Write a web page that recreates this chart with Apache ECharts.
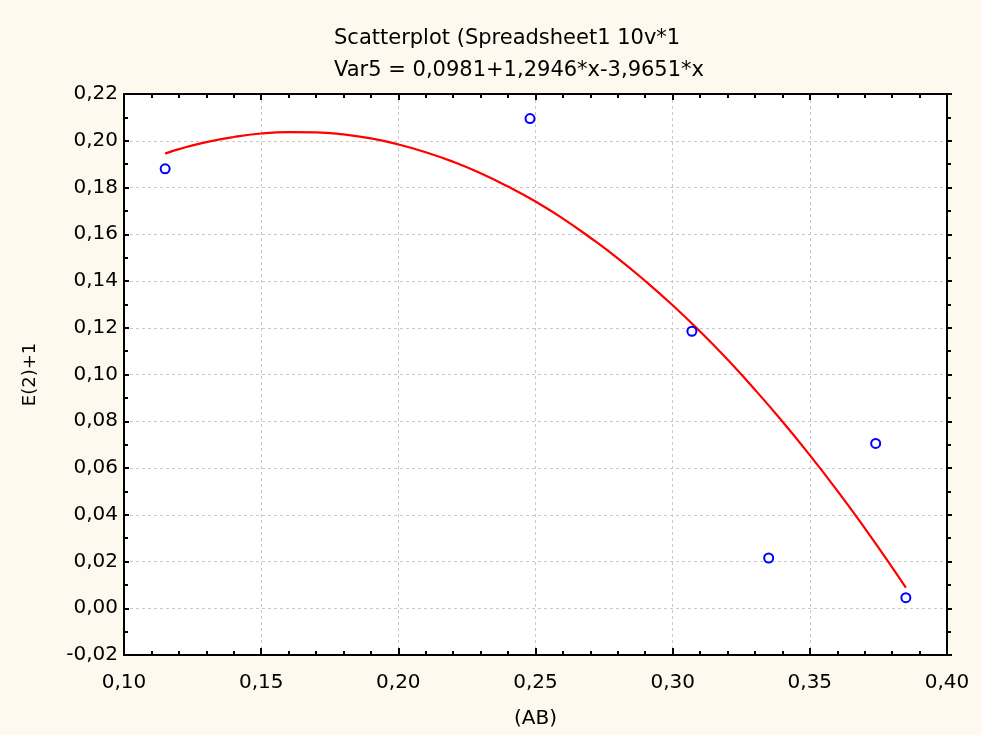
<!DOCTYPE html>
<html>
<head>
<meta charset="utf-8">
<script src="https://cdn.jsdelivr.net/npm/echarts@6/dist/echarts.min.js"></script>
<style>
  html, body { margin: 0; padding: 0; background: #FDF9EE; }
  #chart { width: 981px; height: 735px; }
</style>
</head>
<body>
<div id="chart"></div>
<script>
// observed points (AB, E(2)+1)
const pointsX = [0.115, 0.248, 0.307, 0.335, 0.374, 0.385];
const pointsY = [0.188, 0.2095, 0.1185, 0.0215, 0.0705, 0.0045];

// fitted curve
const fitX = [0.115, 0.12, 0.13, 0.14, 0.15, 0.16, 0.17, 0.18, 0.19, 0.20, 0.21, 0.22, 0.23, 0.24, 0.25,
              0.26, 0.27, 0.28, 0.29, 0.30, 0.31, 0.32, 0.33, 0.34, 0.35, 0.36, 0.37, 0.38, 0.385];
const fitY = [0.1945, 0.1964, 0.1994, 0.2016, 0.2031, 0.2037, 0.2036, 0.2027, 0.2010, 0.1984, 0.1951, 0.1910, 0.1861, 0.1804, 0.1740,
              0.1667, 0.1585, 0.1497, 0.1400, 0.1296, 0.1184, 0.1064, 0.0935, 0.0799, 0.0655, 0.0503, 0.0343, 0.0175, 0.0088];

const titleText = "Scatterplot (Spreadsheet1 10v*1";
const subText = "Var5 = 0,0981+1,2946*x-3,9651*x";

const chart = echarts.init(document.getElementById("chart"));

const fmt = v => v.toFixed(2).replace(".", ",");
const font = "DejaVu Sans, sans-serif";
const fs = 20;

const axisLine = { show: true, onZero: false, lineStyle: { color: "#000", width: 2 } };
const grid = { show: true, lineStyle: { color: "#c8c8c8", type: [3, 3], width: 1 } };
const tick = (inside, len) => ({ show: true, inside, length: len, lineStyle: { color: "#000", width: 2 } });

let option = {
    backgroundColor: "#FDF9EE",
    animation: false,
    title: [
        { text: titleText, left: 329, top: 23, textStyle: { fontFamily: font, fontSize: 21, fontWeight: "normal", color: "#000" } },
        { text: subText, left: 329, top: 55, textStyle: { fontFamily: font, fontSize: 21, fontWeight: "normal", color: "#000" } }
    ],
    grid: { left: 124, right: 34, top: 94, bottom: 80, show: true, backgroundColor: "#fff", borderWidth: 0 },
    xAxis: [{
        type: "value", min: 0.10, max: 0.40, interval: 0.05,
        name: "(AB)", nameLocation: "middle", nameGap: 54,
        nameTextStyle: { fontFamily: font, fontSize: fs, color: "#000" },
        axisLine,
        axisTick: tick(true, 7),
        minorTick: { show: true, splitNumber: 5, length: 4, lineStyle: { color: "#000", width: 2 } },
        axisLabel: { formatter: fmt, fontFamily: font, fontSize: fs, color: "#000", margin: 18 },
        splitLine: grid
    }, {
        type: "value", min: 0.10, max: 0.40, interval: 0.05, position: "top",
        axisLine,
        axisTick: tick(true, 6),
        minorTick: { show: true, splitNumber: 5, length: 4, lineStyle: { color: "#000", width: 2 } },
        axisLabel: { show: false }, splitLine: { show: false }
    }],
    yAxis: [{
        type: "value", min: -0.02, max: 0.22, interval: 0.02,
        name: "E(2)+1", nameLocation: "middle", nameGap: 85, nameRotate: 90,
        nameTextStyle: { fontFamily: font, fontSize: 18, color: "#000" },
        axisLine,
        axisTick: tick(true, 5),
        minorTick: { show: true, splitNumber: 2, length: 4, lineStyle: { color: "#000", width: 2 } },
        axisLabel: { formatter: fmt, fontFamily: font, fontSize: fs, color: "#000", margin: 6 },
        splitLine: grid
    }, {
        type: "value", min: -0.02, max: 0.22, interval: 0.02, position: "right",
        axisLine,
        axisTick: tick(false, 5),
        minorTick: { show: true, splitNumber: 2, length: 4, lineStyle: { color: "#000", width: 2 } },
        axisLabel: { show: false }, splitLine: { show: false }
    }],
    series: [{
        type: "line",
        data: fitX.map((x, i) => [x, fitY[i]]),
        smooth: true,
        showSymbol: false,
        lineStyle: { color: "#ff0000", width: 2.2 },
        z: 2
    }, {
        type: "scatter",
        data: pointsX.map((x, i) => [x, pointsY[i]]),
        symbol: "circle",
        symbolSize: 9,
        itemStyle: { color: "#fff", borderColor: "#0000ff", borderWidth: 2, opacity: 1 },
        z: 3
    }]
};
chart.setOption(option);
</script>
</body>
</html>
